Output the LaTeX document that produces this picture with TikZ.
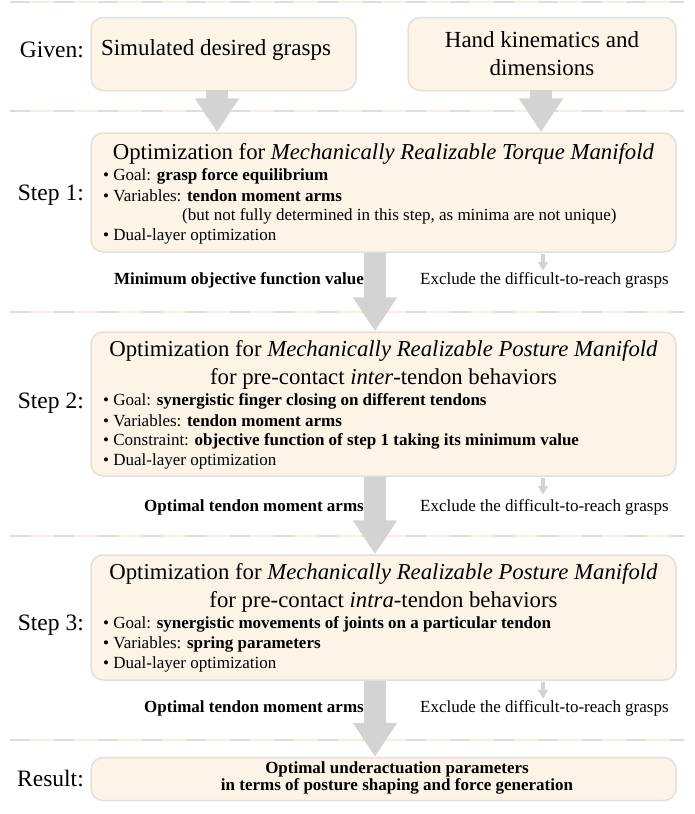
\documentclass[tikz,border=0pt]{standalone}
\usepackage{fontspec}
\setmainfont{Liberation Serif}
\usetikzlibrary{arrows.meta}
\definecolor{boxfill}{HTML}{FDF3E7}
\definecolor{boxline}{HTML}{E0E0E0}
\definecolor{arrowgray}{HTML}{D3D3D3}
\definecolor{dashgray}{HTML}{DCDCDC}
\definecolor{dashorange}{HTML}{FCEEDD}
\tikzset{
  box/.style={draw=boxline, fill=boxfill, line width=1.5pt, rounded corners=12pt, inner sep=0pt},
  lab/.style={font=\fontsize{23.5}{26}\selectfont, inner sep=0pt, anchor=east},
  btext/.style={font=\fontsize{23}{28}\selectfont, inner sep=0pt, align=center},
  ttl/.style={font=\fontsize{22.75}{26}\selectfont, inner sep=0pt},
  bul/.style={font=\fontsize{17}{19}\selectfont, inner sep=0pt, anchor=west},
  side/.style={font=\fontsize{17}{19}\selectfont, inner sep=0pt},
  bigarrow/.style={draw=arrowgray, line width=22pt, -{Triangle[width=42pt,length=34pt]}},
  smallarrow/.style={draw=arrowgray, line width=3.5pt, -{Triangle[width=10pt,length=9pt]}},
  sepo/.style={draw=dashorange, line width=1.2pt},
  sepd/.style={draw=dashgray, line width=2pt, dash pattern=on 20pt off 24pt},
}
\begin{document}
\begin{tikzpicture}[x=1pt,y=-1pt]
\useasboundingbox (0,0) rectangle (694,814);
% separators
\foreach \yy/\nm in {2/a,111/b,312/c,536/d,740/e}{
  \coordinate (sl\nm) at (10,\yy);
  \coordinate (sr\nm) at (684,\yy);
  \draw[sepo] (sl\nm) -- (sr\nm);
  \draw[sepd] (sl\nm) -- (sr\nm);
}
% Given row
\node[lab] (lg) at (84,50) {Given:};
\node[box, minimum width=265pt, minimum height=73pt] (g1) at (223.5,54) {};
\node[btext] (g1t) at (216,50) {Simulated desired grasps};
\node[box, minimum width=268pt, minimum height=73pt] (g2) at (542,54) {};
\node[btext] (g2t) at (g2.center) {Hand kinematics and\\dimensions};
% Step 1
\node[box, minimum width=585pt, minimum height=119pt] (s1) at (383.5,192.5) {};
\node[lab] (l1) at (84,195) {Step 1:};
\node[ttl] (s1t) at (383.5,154) {Optimization for \textit{Mechanically Realizable Torque Manifold}};
\node[bul] (s1a) at (103,176) {• Goal: \textbf{grasp force equilibrium}};
\node[bul] (s1b) at (103,196) {• Variables: \textbf{tendon moment arms}};
\node[bul] (s1c) at (182,216) {(but not fully determined in this step, as minima are not unique)};
\node[bul] (s1d) at (103,236) {• Dual-layer optimization};
% Step 2
\node[box, minimum width=585pt, minimum height=144pt] (s2) at (383.5,404) {};
\node[lab] (l2) at (84,403) {Step 2:};
\node[ttl] (s2t) at (383.5,351) {Optimization for \textit{Mechanically Realizable Posture Manifold}};
\node[ttl] (s2u) at (383.5,379) {for pre-contact \textit{inter}-tendon behaviors};
\node[bul] (s2a) at (103,401) {• Goal: \textbf{synergistic finger closing on different tendons}};
\node[bul] (s2b) at (103,421) {• Variables: \textbf{tendon moment arms}};
\node[bul] (s2c) at (103,441) {• Constraint: \textbf{objective function of step 1 taking its minimum value}};
\node[bul] (s2d) at (103,461) {• Dual-layer optimization};
% Step 3
\node[box, minimum width=585pt, minimum height=125pt] (s3) at (383.5,617.5) {};
\node[lab] (l3) at (84,625) {Step 3:};
\node[ttl] (s3t) at (383.5,574) {Optimization for \textit{Mechanically Realizable Posture Manifold}};
\node[ttl] (s3u) at (383.5,602) {for pre-contact \textit{intra}-tendon behaviors};
\node[bul] (s3a) at (103,624) {• Goal: \textbf{synergistic movements of joints on a particular tendon}};
\node[bul] (s3b) at (103,644) {• Variables: \textbf{spring parameters}};
\node[bul] (s3c) at (103,664) {• Dual-layer optimization};
% Result
\node[box, minimum width=585pt, minimum height=43pt] (r) at (383.5,779) {};
\node[lab] (lr) at (84,779) {Result:};
\node[font=\fontsize{17}{13.5}\selectfont\bfseries, align=center, inner sep=0pt] (rt) at (397,778) {Optimal underactuation parameters\\in terms of posture shaping and force generation};
% side labels
\node[side, anchor=east] (m1) at (364,280) {\textbf{Minimum objective function value}};
\node[side, anchor=west] (e1) at (420,280) {Exclude the difficult-to-reach grasps};
\node[side, anchor=east] (m2) at (364,507) {\textbf{Optimal tendon moment arms}};
\node[side, anchor=west] (e2) at (420,507) {Exclude the difficult-to-reach grasps};
\node[side, anchor=east] (m3) at (364,708) {\textbf{Optimal tendon moment arms}};
\node[side, anchor=west] (e3) at (420,708) {Exclude the difficult-to-reach grasps};
% arrows
\coordinate (ga) at (217,90);
\coordinate (gb) at (541,90);
\draw[bigarrow] (ga) -- (ga |- s1.north);
\draw[bigarrow] (gb) -- (gb |- s1.north);
\coordinate (ma) at (375,0);
\draw[bigarrow] (ma |- s1.south) -- (ma |- s2.north);
\draw[bigarrow] (ma |- s2.south) -- (ma |- s3.north);
\draw[bigarrow] (ma |- s3.south) -- (ma |- r.north);
\coordinate (xa) at (543,0);
\draw[smallarrow] (xa |- s1.south) ++(0,1) -- ++(0,17) coordinate (x1);
\draw[smallarrow] (xa |- s2.south) ++(0,1) -- ++(0,17) coordinate (x2);
\draw[smallarrow] (xa |- s3.south) ++(0,1) -- ++(0,17) coordinate (x3);
\end{tikzpicture}
\end{document}
